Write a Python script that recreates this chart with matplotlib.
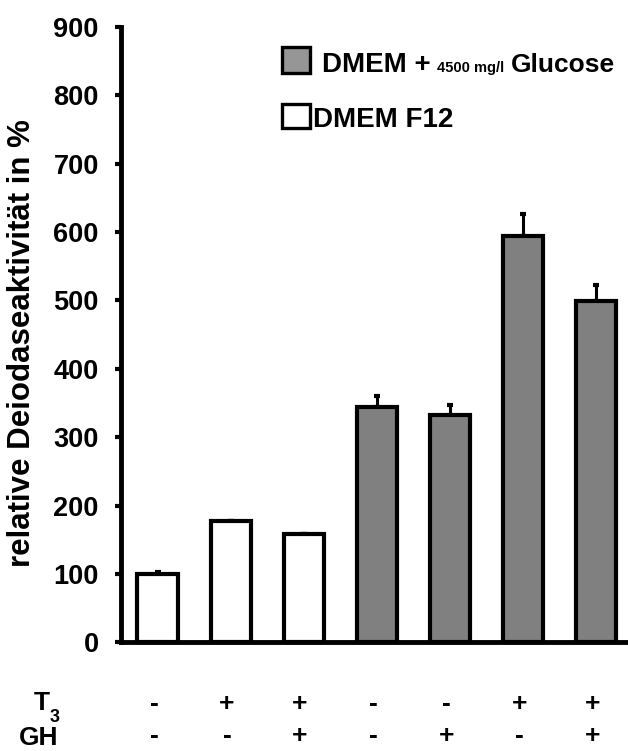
import matplotlib
matplotlib.use("Agg")
import matplotlib.pyplot as plt
from matplotlib.patches import Rectangle
import matplotlib.transforms as mtransforms

plt.rcParams['font.family'] = ['Liberation Sans', 'DejaVu Sans']
plt.rcParams['font.weight'] = 'bold'

# ---- data ----
conditions = ["c1", "c2", "c3", "c4", "c5", "c6", "c7"]
values = [100, 177, 158, 344, 333, 594, 499]
errors = [3, 1, 1, 16, 14, 32, 24]
media = ["F12", "F12", "F12", "Glc", "Glc", "Glc", "Glc"]
t3_signs = ["-", "+", "+", "-", "-", "+", "+"]
gh_signs = ["-", "-", "+", "-", "+", "-", "+"]
yticks = [0, 100, 200, 300, 400, 500, 600, 700, 800, 900]

W, H = 628, 751
fig = plt.figure(figsize=(W / 100, H / 100), dpi=100)

def fx(px):
    return px / W

def fy(py):
    return 1 - py / H

ax_left, ax_top, ax_bottom = 121, 27, 642.3
ax_width = 7 * 73.1
ax = fig.add_axes([fx(ax_left), fy(ax_bottom), ax_width / W, (ax_bottom - ax_top) / H])

colors = {"F12": "white", "Glc": "#808080"}
x = list(range(len(values)))
ax.bar(x, values, width=0.55, color=[colors[m] for m in media],
       edgecolor="black", linewidth=3.0, zorder=2)
ax.errorbar(x, values, yerr=[[0] * len(errors), errors], fmt="none",
            ecolor="black", elinewidth=2.2, capsize=2.5, capthick=3, zorder=1)

ax.set_xlim(-0.5, len(values) - 0.5)
ax.set_ylim(0, 900)
ax.set_yticks(yticks)
ax.set_yticklabels([str(t) for t in yticks], fontsize=19.5, fontweight="bold")
ax.set_xticks([])
for s in ["top", "right"]:
    ax.spines[s].set_visible(False)
for s in ["left", "bottom"]:
    ax.spines[s].set_linewidth(3.5)
ax.tick_params(axis="y", direction="out", length=4, width=3, pad=12)

fig.text(fx(22), fy(343), "relative Deiodaseaktivität in %", rotation=90,
         ha="center", va="center", fontsize=22.5, fontweight="bold")

# legend
leg_items = [("#969696", 47, 73), ("white", 104, 128)]
for col, y0, y1 in leg_items:
    fig.add_artist(Rectangle((fx(282), fy(y1)), (310 - 282) / W, (y1 - y0) / H,
                             facecolor=col, edgecolor="black", linewidth=2.4,
                             transform=fig.transFigure))
fig.text(fx(322), fy(72), "DMEM +", fontsize=20, fontweight="bold", ha="left", va="baseline")
fig.text(fx(437), fy(72), "4500 mg/l", fontsize=10.5, fontweight="bold", ha="left", va="baseline")
fig.text(fx(511), fy(72), "Glucose", fontsize=19, fontweight="bold", ha="left", va="baseline")
fig.text(fx(313), fy(127), "DMEM F12", fontsize=20, fontweight="bold", ha="left", va="baseline")

# condition rows
trans = mtransforms.blended_transform_factory(ax.transData, fig.transFigure)
for xi, t, g in zip(x, t3_signs, gh_signs):
    ax.text(xi - 0.05, fy(704), t, transform=trans, ha="center", va="center",
            fontsize=19, fontweight="bold", clip_on=False)
    ax.text(xi - 0.05, fy(736), g, transform=trans, ha="center", va="center",
            fontsize=19, fontweight="bold", clip_on=False)

fig.text(fx(50), fy(710), "T", fontsize=19, fontweight="bold", ha="right", va="baseline")
fig.text(fx(50), fy(722), "3", fontsize=13, fontweight="bold", ha="left", va="baseline")
fig.text(fx(58), fy(745), "GH", fontsize=19, fontweight="bold", ha="right", va="baseline")

fig.savefig("out.png", dpi=100)
